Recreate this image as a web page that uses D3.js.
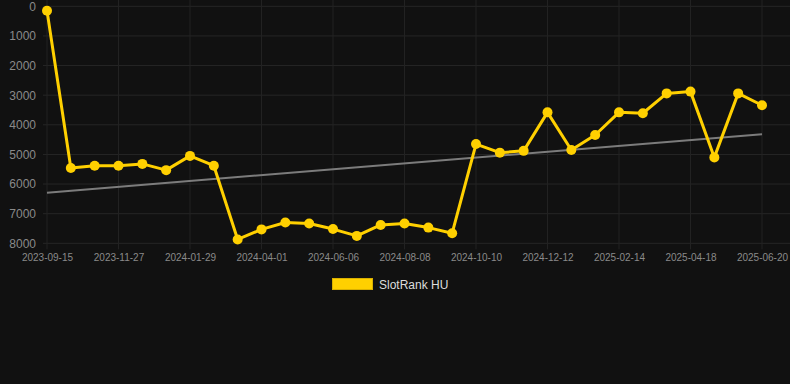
<!DOCTYPE html>
<html>
<head>
<meta charset="utf-8">
<script src="https://cdn.jsdelivr.net/npm/d3@7"></script>
<style>
    html, body { margin: 0; padding: 0; background: #111111; }
    svg { display: block; }
</style>
</head>
<body>
<svg id="chart_svg" width="790" height="384"></svg>
<script>
// categories (only every third one is labelled on the axis)
const g_dates = [
    "2023-09-15", "2023-10-09", "2023-11-02", "2023-11-27", "2023-12-18", "2024-01-08",
    "2024-01-29", "2024-02-19", "2024-03-11", "2024-04-01", "2024-04-23", "2024-05-15",
    "2024-06-06", "2024-06-27", "2024-07-18", "2024-08-08", "2024-08-29", "2024-09-19",
    "2024-10-10", "2024-10-31", "2024-11-21", "2024-12-12", "2025-01-02", "2025-01-24",
    "2025-02-14", "2025-03-07", "2025-03-28", "2025-04-18", "2025-05-09", "2025-05-30",
    "2025-06-20"
];
// rank values (SlotRank HU)
const g_ranks = [
    150, 5460, 5380, 5380, 5320, 5530, 5050, 5380, 7870, 7530,
    7300, 7330, 7520, 7750, 7380, 7330, 7470, 7660, 4650, 4940,
    4880, 3580, 4850, 4345, 3580, 3610, 2940, 2880, 5100, 2940,
    3340
];
const g_y_ticks = [0, 1000, 2000, 3000, 4000, 5000, 6000, 7000, 8000];
const g_series_name = "SlotRank HU";

function draw_chart() {
    var svg = d3.select("#chart_svg");
    var plot_l = 43, plot_r = 790, plot_t = 6.3, plot_b = 243.3;
    var font = "Helvetica, Arial, 'Liberation Sans', sans-serif";

    // scales
    var x_scaler = d3.scalePoint().domain(g_dates).range([47, 762]);
    var y_scaler = d3.scaleLinear().domain([0, 8000]).range([plot_t, plot_b]);

    // grid lines
    svg.append("g").selectAll("line").data(g_y_ticks).join("line")
        .attr("x1", plot_l).attr("x2", plot_r)
        .attr("y1", d => y_scaler(d)).attr("y2", d => y_scaler(d))
        .attr("style", "stroke:#262626; stroke-width:1");
    var x_ticks = g_dates.filter((d, i) => i % 3 == 0);
    svg.append("g").selectAll("line").data(x_ticks).join("line")
        .attr("x1", d => x_scaler(d)).attr("x2", d => x_scaler(d))
        .attr("y1", 0).attr("y2", plot_b + 6)
        .attr("style", "stroke:#222222; stroke-width:1");

    // y axis labels
    var y_axis = svg.append("g").attr("transform", "translate(" + (plot_l + 5) + ",0)")
        .call(d3.axisLeft(y_scaler).tickValues(g_y_ticks).tickSize(0).tickPadding(12).tickFormat(d => d));
    y_axis.select(".domain").remove();
    y_axis.selectAll("text").attr("fill", "#8a8a8a").style("font-family", font).style("font-size", "12px");

    // x axis labels
    var x_axis = svg.append("g").attr("transform", "translate(0," + plot_b + ")")
        .call(d3.axisBottom(x_scaler).tickValues(x_ticks).tickSize(0).tickPadding(11));
    x_axis.select(".domain").remove();
    x_axis.selectAll("text").attr("fill", "#8a8a8a").style("font-family", font).style("font-size", "10px");

    // trend line (least squares over the series)
    var n = g_ranks.length;
    var mx = d3.mean(d3.range(n)), my = d3.mean(g_ranks);
    var sxy = d3.sum(g_ranks, (v, i) => (i - mx) * (v - my));
    var sxx = d3.sum(d3.range(n), i => (i - mx) * (i - mx));
    var slope = sxy / sxx, icpt = my - slope * mx;
    var trend = [0, n - 1].map(i => ({ x: g_dates[i], y: icpt + slope * i }));
    svg.append("path").datum(trend)
        .attr("style", "stroke:#7c7c7c; stroke-width:2; fill:none")
        .attr("d", d3.line().x(d => x_scaler(d.x)).y(d => y_scaler(d.y)));

    // series line and points
    var pts = g_ranks.map((v, i) => ({ x: g_dates[i], y: v }));
    svg.append("path").datum(pts)
        .attr("style", "stroke:#ffd000; stroke-width:3; fill:none; stroke-linejoin:round")
        .attr("d", d3.line().x(d => x_scaler(d.x)).y(d => y_scaler(d.y)));
    svg.append("g").selectAll("circle").data(pts).join("circle")
        .attr("cx", d => x_scaler(d.x)).attr("cy", d => y_scaler(d.y)).attr("r", 5)
        .attr("fill", "#ffd000");

    // legend
    var lg = svg.append("g").attr("transform", "translate(332,278)");
    lg.append("rect").attr("x", 0.5).attr("y", 0.5).attr("width", 40).attr("height", 11)
        .attr("fill", "#ffd000").attr("stroke", "#d9b000").attr("stroke-width", 1);
    lg.append("text").attr("x", 47).attr("y", 10.5).text(g_series_name)
        .attr("fill", "#dddddd").style("font-family", font).style("font-size", "12px");
}

draw_chart();
</script>
</body>
</html>
